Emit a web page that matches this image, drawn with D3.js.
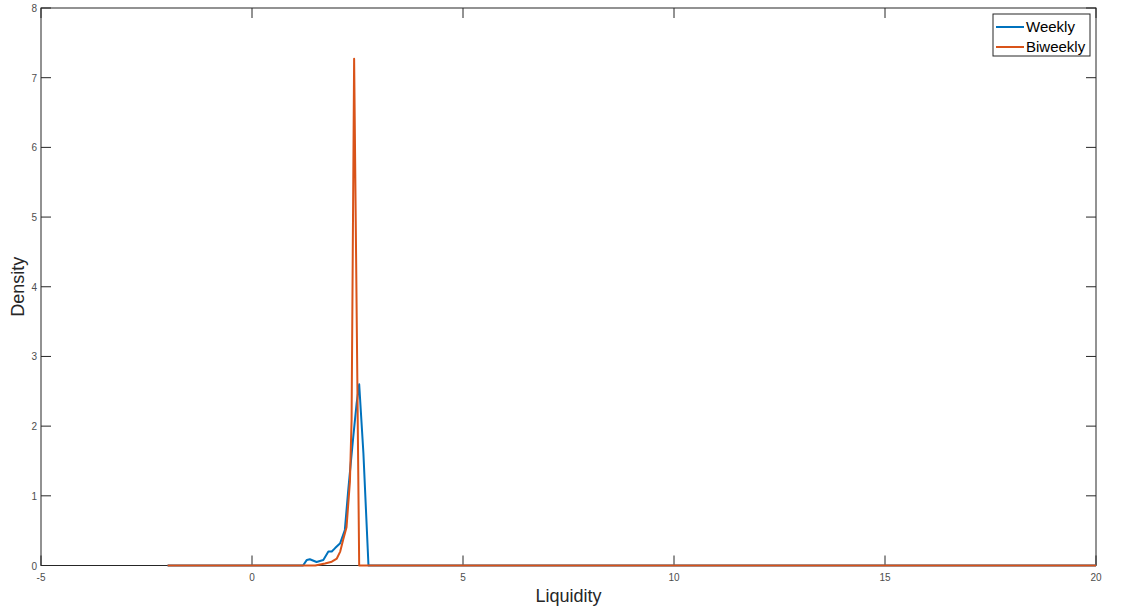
<!DOCTYPE html>
<html>
<head>
<meta charset="utf-8">
<script src="https://cdn.jsdelivr.net/npm/d3@7.9.0/dist/d3.min.js"></script>
<style>
  body { margin: 0; background: #fff; }
  svg { font-family: "Liberation Sans", Arial, sans-serif; }
</style>
</head>
<body>
<svg id="chart" width="1122" height="612"></svg>
<script>
// weekly density curve (x = liquidity, y = density)
const weeklyX = [-2, 1.21, 1.3, 1.37, 1.53, 1.69, 1.81, 1.89, 1.97, 2.09, 2.2, 2.28, 2.4, 2.48, 2.54, 2.64, 2.76, 20];
const weeklyY = [0, 0, 0.08, 0.09, 0.05, 0.08, 0.2, 0.2, 0.25, 0.32, 0.51, 1.08, 1.85, 2.33, 2.6, 1.61, 0, 0];

// biweekly density curve
const biweeklyX = [-2, 1.5, 1.73, 1.89, 2.01, 2.09, 2.16, 2.24, 2.32, 2.36, 2.42, 2.54, 20];
const biweeklyY = [0, 0, 0.03, 0.055, 0.1, 0.2, 0.37, 0.55, 1.2, 2.09, 7.27, 0, 0];

const xTicks = [-5, 0, 5, 10, 15, 20];
const yTicks = [0, 1, 2, 3, 4, 5, 6, 7, 8];
const seriesNames = ['Weekly', 'Biweekly'];
const seriesColors = ['#0072BD', '#D95319'];

const svg = d3.select('#chart');
const plotL = 41, plotR = 1096, plotT = 8, plotB = 565.5;

const x = d3.scaleLinear().domain([-5, 20]).range([plotL, plotR]);
const y = d3.scaleLinear().domain([0, 8]).range([plotB, plotT]);

const axisColor = '#262626';
const tickLen = 10;

// frame
svg.append('rect')
  .attr('x', plotL).attr('y', plotT)
  .attr('width', plotR - plotL).attr('height', plotB - plotT)
  .attr('fill', 'none').attr('stroke', axisColor).attr('stroke-width', 1);

// ticks (inside, mirrored like a boxed axis)
const tickG = svg.append('g').attr('stroke', axisColor).attr('stroke-width', 1);
xTicks.forEach(t => {
  tickG.append('line').attr('x1', x(t)).attr('x2', x(t)).attr('y1', plotB).attr('y2', plotB - tickLen);
  tickG.append('line').attr('x1', x(t)).attr('x2', x(t)).attr('y1', plotT).attr('y2', plotT + tickLen);
});
yTicks.forEach(t => {
  tickG.append('line').attr('y1', y(t)).attr('y2', y(t)).attr('x1', plotL).attr('x2', plotL + tickLen);
  tickG.append('line').attr('y1', y(t)).attr('y2', y(t)).attr('x1', plotR).attr('x2', plotR - tickLen);
});

// tick labels
svg.append('g').selectAll('text')
  .data(xTicks)
  .join('text')
  .attr('x', d => x(d))
  .attr('y', plotB + 15)
  .attr('text-anchor', 'middle')
  .attr('font-size', 10)
  .attr('fill', '#4d4d4d')
  .text(d => d);

svg.append('g').selectAll('text')
  .data(yTicks)
  .join('text')
  .attr('x', plotL - 4)
  .attr('y', d => y(d) + 4)
  .attr('text-anchor', 'end')
  .attr('font-size', 10)
  .attr('fill', '#4d4d4d')
  .text(d => d);

// axis titles
svg.append('text')
  .attr('x', (plotL + plotR) / 2)
  .attr('y', 602)
  .attr('text-anchor', 'middle')
  .attr('font-size', 18)
  .attr('fill', '#262626')
  .text('Liquidity');

svg.append('text')
  .attr('transform', `translate(24, ${(plotT + plotB) / 2}) rotate(-90)`)
  .attr('text-anchor', 'middle')
  .attr('font-size', 18)
  .attr('fill', '#262626')
  .text('Density');

// curves
const line = d3.line().x(d => x(d[0])).y(d => y(d[1]));
const series = [
  d3.zip(weeklyX, weeklyY),
  d3.zip(biweeklyX, biweeklyY)
];

svg.append('g').selectAll('path')
  .data(series)
  .join('path')
  .attr('d', line)
  .attr('fill', 'none')
  .attr('stroke', (_, i) => seriesColors[i])
  .attr('stroke-width', 2)
  .attr('stroke-linejoin', 'round');

// legend
const legend = svg.append('g').attr('transform', 'translate(993, 14)');
legend.append('rect')
  .attr('width', 97).attr('height', 42)
  .attr('fill', '#fff').attr('stroke', axisColor).attr('stroke-width', 1);

legend.selectAll('g.item')
  .data(seriesNames)
  .join('g')
  .attr('class', 'item')
  .attr('transform', (_, i) => `translate(0, ${13 + i * 20})`)
  .each(function (d, i) {
    const g = d3.select(this);
    g.append('line')
      .attr('x1', 3).attr('x2', 31).attr('y1', 0).attr('y2', 0)
      .attr('stroke', seriesColors[i]).attr('stroke-width', 2);
    g.append('text')
      .attr('x', 33).attr('y', 5)
      .attr('font-size', 15)
      .attr('fill', '#000')
      .text(d);
  });
</script>
</body>
</html>
